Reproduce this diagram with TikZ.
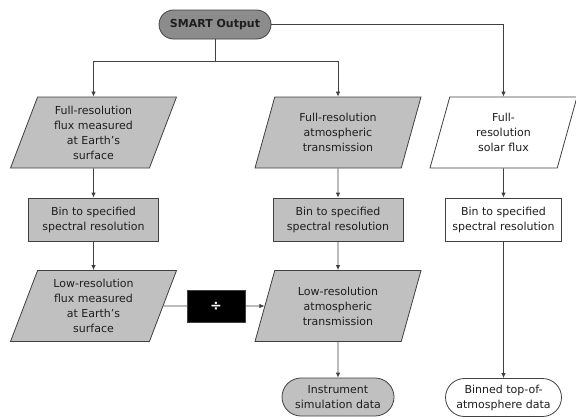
\documentclass[tikz,border=0pt]{standalone}
\usepackage{fontspec}
\setmainfont{DejaVu Sans}
\usepackage{tikz}
\usetikzlibrary{arrows.meta,positioning,shapes.geometric,shapes.misc}
\definecolor{flowgray}{RGB}{192,192,192}
\definecolor{smartgray}{RGB}{140,140,140}
\definecolor{linegray}{RGB}{64,64,64}
\definecolor{textgray}{RGB}{30,30,30}

\begin{document}
\begin{tikzpicture}[
  x=1pt,y=-1pt,
  font=\fontsize{11}{15}\selectfont,text=textgray,
  io/.style={trapezium,trapezium left angle=64,trapezium right angle=116,trapezium stretches body,draw=linegray,line width=0.8pt,fill=flowgray,align=center,minimum height=71pt,minimum width=166pt,inner sep=1pt},
  proc/.style={draw=linegray,line width=0.8pt,fill=flowgray,align=center,minimum height=43pt,minimum width=130pt,inner sep=1pt},
  term/.style={rounded rectangle,draw=linegray,line width=0.8pt,fill=flowgray,align=center,minimum height=38pt,inner sep=1pt},
  arr/.style={-{Latex[length=5pt,width=4.5pt]},linegray,line width=0.8pt},
  lin/.style={linegray,line width=0.8pt}
]
\useasboundingbox (0,0) rectangle (576,418);
\node[term,fill=smartgray,minimum height=29pt,minimum width=114pt,font=\fontsize{11}{15}\selectfont\bfseries] (smart) at (215,24.5) {SMART Output};
% left column
\node[io] (fluxhi) at (93.5,132.5) {Full-resolution\\flux measured\\at Earth’s\\surface};
\node[proc] (binflux) at (93.5,219.5) {Bin to specified\\spectral resolution};
\node[io] (fluxlo) at (93.5,306) {Low-resolution\\flux measured\\at Earth’s\\surface};
% middle column
\node[io] (transhi) at (338,132.5) {Full-resolution\\atmospheric\\transmission};
\node[proc] (bintrans) at (338,219.5) {Bin to specified\\spectral resolution};
\node[io] (translo) at (338,306) {Low-resolution\\atmospheric\\transmission};
\node[term,minimum width=114pt] (instr) at (338,397) {Instrument\\simulation data};
% right column
\node[io,fill=white,minimum width=147pt] (solarhi) at (503.5,132.5) {Full-\\resolution\\solar flux};
\node[proc,fill=white,minimum width=116pt] (binsolar) at (503.5,219.5) {Bin to specified\\spectral resolution};
\node[term,fill=white,minimum width=118pt] (toa) at (503.5,397.5) {Binned top-of-\\atmosphere data};
% divide
\node[fill=black,draw=linegray,minimum width=58pt,minimum height=32pt,text=white,font=\fontsize{14}{14}\selectfont\bfseries] (divide) at (216,306) {÷};

\coordinate (split) at ([yshift=-22pt]smart.south);
\draw[lin] (smart.south) -- (split);
\draw[arr] (split) -| (fluxhi.north);
\draw[arr] (split) -| (transhi.north);
\draw[arr] (smart.east) -| (solarhi.north);
\draw[arr] (fluxhi) -- (binflux);
\draw[arr] (binflux) -- (fluxlo);
\draw[arr] (transhi) -- (bintrans);
\draw[arr] (bintrans) -- (translo);
\draw[arr] (translo) -- (instr);
\draw[arr] (solarhi) -- (binsolar);
\draw[arr] (binsolar) -- (toa);
\draw[lin] (fluxlo.east) -- (divide.west);
\draw[arr] (divide.east) -- (translo.west);
\end{tikzpicture}
\end{document}
